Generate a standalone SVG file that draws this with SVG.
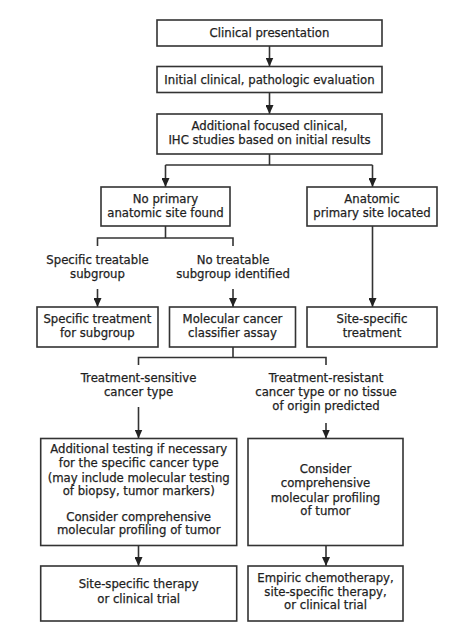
<svg xmlns="http://www.w3.org/2000/svg" width="469" height="639" viewBox="0 0 469 639">
<style>
.box{fill:#fff;stroke:#333;stroke-width:1.6}
.ln{fill:none;stroke:#333;stroke-width:1.6}
.ar{fill:none;stroke:#333;stroke-width:1.6;marker-end:url(#ah)}
text{font-family:"DejaVu Sans",Verdana,sans-serif;font-size:11.7px;fill:#1e1e1e;stroke:#1e1e1e;stroke-width:0.25;text-anchor:middle}
</style>
<defs>
<marker id="ah" markerUnits="userSpaceOnUse" markerWidth="9" markerHeight="8" refX="9" refY="4" orient="auto">
<path d="M0,0 L9,4 L0,8 z" fill="#222"/>
</marker>
</defs>
<rect width="469" height="639" fill="#fff"/>
<g id="connectors">
<line class="ar" x1="269.5" y1="46" x2="269.5" y2="66.5"/>
<line class="ar" x1="269.5" y1="92.5" x2="269.5" y2="114"/>
<polyline class="ln" points="269.5,154 269.5,165"/>
<polyline class="ln" points="165.5,165 372.5,165"/>
<line class="ar" x1="165.5" y1="165" x2="165.5" y2="187"/>
<line class="ar" x1="372.5" y1="165" x2="372.5" y2="187"/>
<polyline class="ln" points="165.5,226 165.5,238"/>
<polyline class="ln" points="97.5,246 97.5,238 233,238 233,246"/>
<line class="ar" x1="97.5" y1="289" x2="97.5" y2="307"/>
<line class="ar" x1="233" y1="289" x2="233" y2="307"/>
<line class="ar" x1="372.5" y1="226" x2="372.5" y2="307"/>
<polyline class="ln" points="233,347 233,357.5"/>
<polyline class="ln" points="138.5,365 138.5,357.5 326,357.5 326,365"/>
<line class="ar" x1="138.5" y1="407" x2="138.5" y2="438.5"/>
<line class="ar" x1="326" y1="423" x2="326" y2="438.5"/>
<line class="ar" x1="138.5" y1="545.5" x2="138.5" y2="566"/>
<line class="ar" x1="326" y1="545.5" x2="326" y2="566"/>
</g>
<g id="clinical-presentation">
<rect class="box" x="157" y="20" width="225" height="26"/>
<text x="269.5" y="37">Clinical presentation</text>
</g>
<g id="initial-evaluation">
<rect class="box" x="157" y="66.5" width="225" height="26"/>
<text x="269.5" y="83.5">Initial clinical, pathologic evaluation</text>
</g>
<g id="additional-studies">
<rect class="box" x="157" y="114" width="225" height="40"/>
<text x="269.5" y="130">Additional focused clinical,</text>
<text x="269.5" y="143.5">IHC studies based on initial results</text>
</g>
<g id="no-primary">
<rect class="box" x="101" y="187" width="129" height="39"/>
<text x="165.5" y="203">No primary</text>
<text x="165.5" y="216.5">anatomic site found</text>
</g>
<g id="anatomic-primary">
<rect class="box" x="307" y="187" width="130" height="39"/>
<text x="372" y="203">Anatomic</text>
<text x="372" y="216.5">primary site located</text>
</g>
<g id="label-specific-subgroup">
<text x="97.5" y="264">Specific treatable</text>
<text x="97.5" y="277.5">subgroup</text>
</g>
<g id="label-no-subgroup">
<text x="233" y="264">No treatable</text>
<text x="233" y="277.5">subgroup identified</text>
</g>
<g id="specific-treatment">
<rect class="box" x="37" y="307" width="121" height="40"/>
<text x="97.3" y="322.7">Specific treatment</text>
<text x="97.3" y="336.5">for subgroup</text>
</g>
<g id="molecular-classifier">
<rect class="box" x="169.5" y="307" width="126" height="40"/>
<text x="232.5" y="322.7">Molecular cancer</text>
<text x="232.5" y="336.5">classifier assay</text>
</g>
<g id="site-specific-treatment">
<rect class="box" x="307" y="307" width="130" height="40"/>
<text x="372" y="322.7">Site-specific</text>
<text x="372" y="336.5">treatment</text>
</g>
<g id="label-sensitive">
<text x="138.5" y="382.3">Treatment-sensitive</text>
<text x="138.5" y="396">cancer type</text>
</g>
<g id="label-resistant">
<text x="326" y="382.3">Treatment-resistant</text>
<text x="326" y="396">cancer type or no tissue</text>
<text x="326" y="410">of origin predicted</text>
</g>
<g id="additional-testing">
<rect class="box" x="40.7" y="438.5" width="196" height="107"/>
<text x="138.7" y="453.3">Additional testing if necessary</text>
<text x="138.7" y="467.3">for the specific cancer type</text>
<text x="138.7" y="481.5">(may include molecular testing</text>
<text x="138.7" y="495.3">of biopsy, tumor markers)</text>
<text x="138.7" y="520.7">Consider comprehensive</text>
<text x="138.7" y="534.3">molecular profiling of tumor</text>
</g>
<g id="consider-profiling">
<rect class="box" x="248" y="438.5" width="155" height="107"/>
<text x="325.5" y="473.3">Consider</text>
<text x="325.5" y="487.3">comprehensive</text>
<text x="325.5" y="501.5">molecular profiling</text>
<text x="325.5" y="515">of tumor</text>
</g>
<g id="site-specific-therapy">
<rect class="box" x="40.7" y="566" width="196" height="55"/>
<text x="138.7" y="588.3">Site-specific therapy</text>
<text x="138.7" y="602.5">or clinical trial</text>
</g>
<g id="empiric-chemotherapy">
<rect class="box" x="248" y="566" width="155" height="55"/>
<text x="325.5" y="581.7">Empiric chemotherapy,</text>
<text x="325.5" y="595.7">site-specific therapy,</text>
<text x="325.5" y="609.3">or clinical trial</text>
</g>
</svg>
